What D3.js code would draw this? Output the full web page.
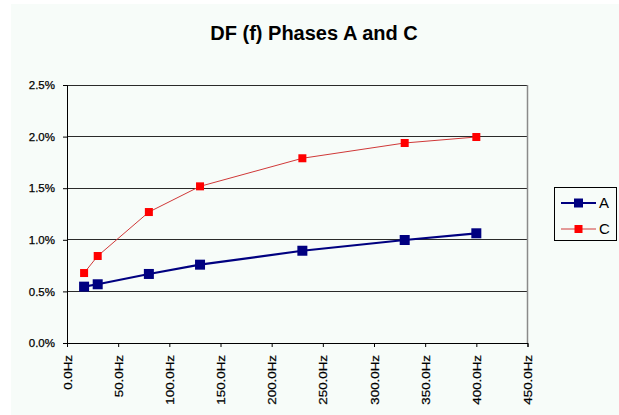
<!DOCTYPE html>
<html><head><meta charset="utf-8">
<script src="https://cdn.jsdelivr.net/npm/d3@7"></script>
<style>body{margin:0;background:#fff}svg{display:block}</style>
</head><body>
<script>
const freqs = [16.7, 30, 80, 130, 230, 330, 400];
const seriesA = [0.546, 0.569, 0.669, 0.759, 0.894, 0.998, 1.063];
const seriesC = [0.678, 0.843, 1.269, 1.518, 1.79, 1.938, 1.996];
const yTicks = [0, 0.5, 1.0, 1.5, 2.0, 2.5];
const xTicks = [0, 50, 100, 150, 200, 250, 300, 350, 400, 450];
const seriesNames = ["A", "C"];
const title = "DF (f) Phases A and C";

const W = 619, H = 415;
const svg = d3.select("body").append("svg").attr("width", W).attr("height", H);
svg.append("rect").attr("x", 11).attr("y", 4).attr("width", W - 11).attr("height", H - 4).attr("fill", "#f7fcf9");

const x = d3.scaleLinear().domain([0, 450]).range([67, 527.5]);
const y = d3.scaleLinear().domain([0, 2.5]).range([343, 85]);
const font = "'Liberation Sans', Arial, sans-serif";

svg.append("text").attr("x", 314).attr("y", 40).attr("text-anchor", "middle")
  .attr("font-family", font).attr("font-weight", "bold").attr("font-size", 20).text(title);

// gridlines
svg.append("g").selectAll("line").data(yTicks.slice(1)).join("line")
  .attr("x1", x(0)).attr("x2", x(450)).attr("y1", d => y(d)).attr("y2", d => y(d))
  .attr("stroke", "#2a2a2a").attr("stroke-width", 1).attr("shape-rendering", "crispEdges");
// right border
svg.append("line").attr("x1", x(450)).attr("x2", x(450)).attr("y1", y(2.5)).attr("y2", y(0))
  .attr("stroke", "#8a8a8a").attr("stroke-width", 1.5);

function stretch(sel, f) {
  sel.each(function() {
    const w = this.getComputedTextLength();
    d3.select(this).attr("textLength", w * f).attr("lengthAdjust", "spacingAndGlyphs");
  });
}

// axes
const yAxis = d3.axisLeft(y).tickValues(yTicks).tickSize(4).tickFormat(d => d.toFixed(1) + "%");
const gy = svg.append("g").attr("transform", `translate(${x(0)},0)`).call(yAxis);
gy.select(".domain").attr("stroke", "#000");
gy.selectAll(".tick line").attr("stroke", "#000");
gy.selectAll("text").attr("font-family", font).attr("font-size", 11.5).attr("fill", "#000")
  .attr("stroke", "#000").attr("stroke-width", 0.25).attr("x", -12);

const xAxis = d3.axisBottom(x).tickValues(xTicks).tickSize(4).tickFormat(d => d.toFixed(1) + "Hz");
const gx = svg.append("g").attr("transform", `translate(0,${y(0)})`).call(xAxis);
gx.select(".domain").attr("stroke", "#000");
gx.selectAll(".tick line").attr("stroke", "#000");
gx.selectAll("text").attr("font-family", font).attr("font-size", 11.5).attr("fill", "#000")
  .attr("stroke", "#000").attr("stroke-width", 0.25)
  .attr("transform", "rotate(-90)").attr("text-anchor", "end").attr("x", -12).attr("y", 0).attr("dy", "0.35em");
stretch(gx.selectAll("text"), 1.16);

// lines
const line = vals => d3.line().x((d, i) => x(freqs[i])).y(d => y(d))(vals);
svg.append("path").attr("d", line(seriesC)).attr("fill", "none").attr("stroke", "#d03838").attr("stroke-width", 1);
svg.append("path").attr("d", line(seriesA)).attr("fill", "none").attr("stroke", "#000080").attr("stroke-width", 2.2);

svg.append("g").selectAll("rect").data(seriesA).join("rect")
  .attr("x", (d, i) => x(freqs[i]) - 5).attr("y", d => y(d) - 5).attr("width", 10).attr("height", 10).attr("fill", "#000080");
svg.append("g").selectAll("rect").data(seriesC).join("rect")
  .attr("x", (d, i) => x(freqs[i]) - 4).attr("y", d => y(d) - 4).attr("width", 8).attr("height", 8).attr("fill", "#ff0000");

// legend
const lg = svg.append("g");
lg.append("rect").attr("x", 554.5).attr("y", 187.5).attr("width", 62).attr("height", 53)
  .attr("fill", "#f7fcf9").attr("stroke", "#000").attr("stroke-width", 1);
const styles = [{c: "#000080", w: 2.2, s: 9, m: "#000080"}, {c: "#d03838", w: 1, s: 8, m: "#ff0000"}];
seriesNames.forEach((n, i) => {
  const yy = 203 + i * 26;
  const st = styles[i];
  lg.append("line").attr("x1", 561).attr("x2", 596).attr("y1", yy).attr("y2", yy).attr("stroke", st.c).attr("stroke-width", st.w);
  lg.append("rect").attr("x", 578.5 - st.s / 2).attr("y", yy - st.s / 2).attr("width", st.s).attr("height", st.s).attr("fill", st.m);
  lg.append("text").attr("x", 599).attr("y", yy).attr("dy", "0.36em").attr("font-family", font).attr("font-size", 15).text(n);
});
</script>
</body></html>
